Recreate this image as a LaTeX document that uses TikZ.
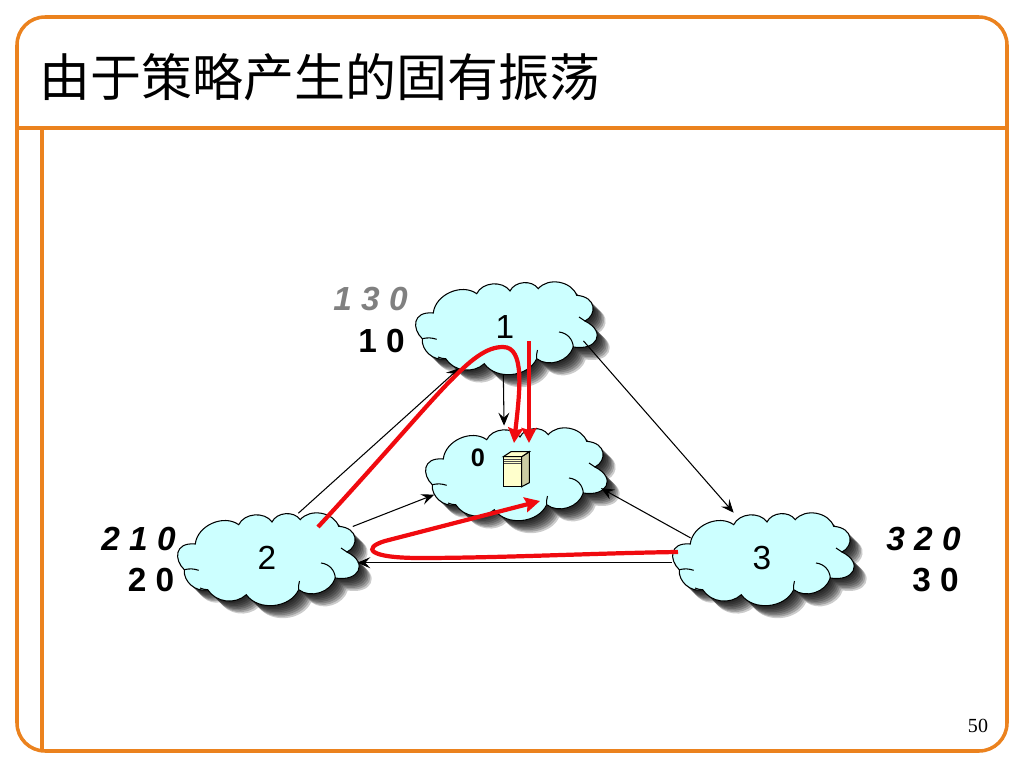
\documentclass[tikz,border=0pt]{standalone}
\usepackage{fontspec}
\setmainfont{Liberation Sans}
\newfontfamily\cjktitle{Noto Sans CJK SC}
\newfontfamily\pagenum{Liberation Serif}
\usetikzlibrary{positioning,calc}
\usetikzlibrary{arrows.meta,shapes.geometric}
\definecolor{FrameOrange}{RGB}{235,130,30}
\definecolor{CloudCyan}{RGB}{204,255,255}
\definecolor{PathRed}{RGB}{240,10,15}
\definecolor{ServerCream}{RGB}{255,255,204}
\newcommand{\cloudoutline}{(-0.717,0.14) to[bend left=60] (-0.283,0.333) to[bend left=60] (0.05,0.36)
    to[bend left=60] (0.333,0.383) to[bend left=60] (0.717,0.317)
    .. controls (0.92,0.3) and (0.92,0.12) .. (0.8,0.06) .. controls (1.02,-0.05) and (0.92,-0.24) .. (0.683,-0.2)
    to[bend left=55] (0.317,-0.317) to[bend left=60] (-0.207,-0.367)
    to[bend left=50] (-0.593,-0.317) to[bend left=55] (-0.827,-0.117)
    .. controls (-0.93,-0.02) and (-0.93,0.16) .. cycle}
\tikzset{
  frameline/.style={draw=FrameOrange,line width=1pt},
  link/.style={draw=black,line width=0.3pt,-{Stealth[length=0.13cm,width=0.11cm,inset=0.05cm]}},
  route/.style={draw=PathRed,line width=1.2pt,-{Stealth[length=0.15cm,width=0.15cm,inset=0.02cm]}},
  as/.style={ellipse,minimum width=1.8cm,minimum height=0.94cm,inner sep=0pt,font=\fontsize{9.5}{11}\selectfont},
  pathlab/.style={inner sep=0pt,font=\fontsize{9.5}{11}\selectfont\bfseries},
  ghost/.style={pathlab,font=\fontsize{9.5}{11}\selectfont\bfseries\itshape},
  wrinkle/.style={draw=black,line width=0.3pt},
}
\tikzset{cloudpic/.pic={
  \foreach \s in {0.02,0.035,0.05,0.065,0.08,0.095,0.11,0.125}
    \fill[black,opacity=0.2,xshift=\s cm,yshift=-\s cm] \cloudoutline;
  \draw[wrinkle,fill=CloudCyan] \cloudoutline;
  \draw[wrinkle] (-0.827,-0.117) to[bend left=15] (-0.683,-0.123);
  \draw[wrinkle] (0.54,-0.05) to[bend left=40] (0.683,-0.2);
  \draw[wrinkle] (0.317,-0.317) to[bend left=10] (0.325,-0.23);
  \draw[wrinkle] (-0.593,-0.317) to[bend left=10] (-0.67,-0.3);
  \draw[wrinkle] (0.8,0.06) -- (0.74,0.1);
}}

\begin{document}
\begin{tikzpicture}
\useasboundingbox (0,0) rectangle (10.24,-7.68);
% frame
\draw[frameline,rounded corners=0.28cm] (0.17,-0.17) rectangle (10.07,-7.51);
\draw[frameline] (0.17,-1.28) -- (10.07,-1.28);
\draw[frameline] (0.42,-1.28) -- (0.42,-7.51);
\node[inner sep=0pt,font=\fontsize{14.5}{16}\selectfont\cjktitle] (title) at (3.2,-0.77) {由于策略产生的固有振荡};
\node[inner sep=0pt,font=\fontsize{5.7}{7}\selectfont\pagenum] (pagenr) at (9.78,-7.26) {50};
% clouds
\pic at (5.05,-3.27) {cloudpic};
\pic at (5.15,-4.73) {cloudpic};
\pic at (2.67,-5.58) {cloudpic};
\pic at (7.62,-5.58) {cloudpic};
\node[as] (asone) at (5.05,-3.27) {1};
\node[as] (aszero) at (5.15,-4.73) {};
\node[as] (astwo) at (2.67,-5.58) {2};
\node[as] (asthree) at (7.62,-5.58) {3};
\node[pathlab,font=\fontsize{7.2}{9}\selectfont\bfseries] (zero) at (4.78,-4.58) {0};
% server
\draw[wrinkle,fill=ServerCream!80!black] (5.217,-4.567) -- (5.293,-4.517) -- (5.293,-4.827) -- (5.217,-4.867) -- cycle;
\draw[wrinkle,fill=ServerCream] (5.033,-4.567) -- (5.217,-4.567) -- (5.217,-4.867) -- (5.033,-4.867) -- cycle;
\draw[wrinkle,fill=ServerCream] (5.033,-4.567) -- (5.11,-4.517) -- (5.293,-4.517) -- (5.217,-4.567) -- cycle;
\foreach \y in {-4.59,-4.61,-4.63}
  \draw[black!70,line width=0.15pt] (5.04,\y) -- (5.21,\y);
% links
\draw[link] (astwo.55.5) -- (asone.222.3);
\draw[link,shorten <=0.12cm] (astwo.20) -- (aszero.195.4);
\draw[link,shorten <=-0.08cm] (asthree.163.3) -- (aszero.-10.7);
\draw[link] (asone.-92.5) -- (aszero.103.8);
\draw[link,shorten <=-0.07cm] (asone.-13.5) -- (asthree.122.2);
\draw[link] (asthree.183.3) -- (astwo.-3.1);
% routes
\coordinate (rtwo) at (3.18,-5.27);
\coordinate (rone) at (5.29,-3.41);
\coordinate (rthree) at (6.78,-5.52);
\coordinate (topa) at (5.14,-4.43);
\coordinate (topb) at (5.29,-4.43);
\coordinate (topc) at (5.4,-5.01);
\draw[route] (rtwo) .. controls (4.4,-3.95) and (4.7,-3.47) .. (5.03,-3.47) .. controls (5.25,-3.47) and (5.2,-3.9) .. (topa);
\draw[route] (rone) -- (topb);
\draw[route] (rthree) .. controls (6,-5.53) and (5,-5.58) .. (4.2,-5.58) .. controls (3.68,-5.58) and (3.62,-5.48) .. (3.85,-5.41) -- (topc);
% path labels
\node[ghost,text=gray] (lone) at (3.705,-2.99) {1 3 0};
\node[pathlab] (ltwo) at (3.815,-3.41) {1 0};
\node[ghost] (lthree) at (1.385,-5.39) {2 1 0};
\node[pathlab] (lfour) at (1.51,-5.8) {2 0};
\node[ghost] (lfive) at (9.235,-5.39) {3 2 0};
\node[pathlab] (lsix) at (9.355,-5.8) {3 0};
\end{tikzpicture}
\end{document}
